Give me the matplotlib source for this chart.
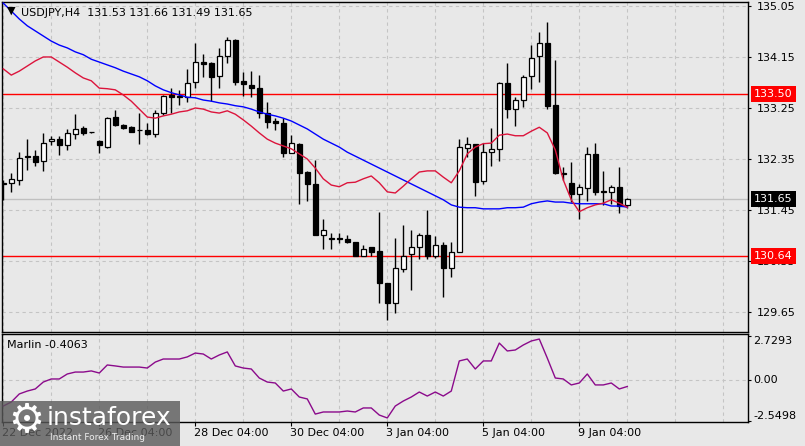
import matplotlib
matplotlib.use("Agg")
import matplotlib.pyplot as plt
from matplotlib.patches import Rectangle

# USDJPY H4 candles
opens = [131.93, 131.92, 131.98, 132.40, 132.40, 132.32, 132.66, 132.70, 132.59, 132.79,
         132.90, 132.82, 132.66, 132.57, 133.09, 132.95, 132.91, 132.86, 132.86, 132.79,
         133.17, 133.48, 133.46, 133.45, 133.70, 134.07, 134.05, 133.82, 134.16, 134.45,
         133.73, 133.66, 133.61, 133.17, 133.02, 132.99, 132.46, 132.61, 132.12, 131.91,
         131.00, 130.96, 130.95, 130.94, 130.88, 130.64, 130.79, 130.73, 130.16, 129.80,
         130.41, 130.67, 130.79, 131.01, 130.64, 130.84, 130.42, 130.70, 132.54, 132.61,
         131.96, 132.47, 132.52, 133.69, 133.24, 133.39, 133.81, 134.17, 134.39, 133.31,
         132.11, 131.92, 131.74, 131.83, 132.43, 131.79, 131.76, 131.85, 131.53]
highs = [131.98, 132.10, 132.48, 132.71, 132.51, 132.80, 132.76, 132.76, 132.88, 133.14,
         132.94, 132.83, 132.69, 133.09, 133.21, 132.97, 132.94, 133.17, 132.99, 133.21,
         133.48, 133.60, 133.57, 133.94, 134.40, 134.20, 134.07, 134.30, 134.51, 134.46,
         133.89, 133.90, 133.83, 133.36, 133.07, 133.07, 132.77, 132.63, 132.13, 132.33,
         131.29, 131.04, 131.04, 131.00, 130.88, 130.84, 130.79, 131.42, 130.16, 130.96,
         131.18, 131.10, 131.04, 131.45, 130.99, 130.88, 130.88, 132.71, 132.73, 132.61,
         132.64, 132.89, 133.71, 134.04, 133.44, 133.83, 134.36, 134.59, 134.76, 134.10,
         132.20, 132.29, 131.90, 132.56, 132.64, 132.13, 131.89, 132.21, 131.66]
lows = [131.63, 131.76, 131.89, 132.16, 132.23, 132.14, 132.59, 132.42, 132.51, 132.71,
        132.77, 132.81, 132.46, 132.55, 132.93, 132.88, 132.82, 132.61, 132.77, 132.73,
        133.13, 133.16, 133.30, 133.36, 133.60, 133.79, 133.38, 133.61, 134.05, 133.66,
        133.47, 133.45, 133.08, 132.90, 132.86, 132.38, 132.45, 131.55, 131.60, 131.00,
        130.77, 130.77, 130.86, 130.86, 130.64, 130.64, 130.64, 129.81, 129.50, 129.63,
        130.35, 130.04, 130.58, 130.58, 130.61, 129.92, 130.27, 130.70, 132.38, 131.69,
        131.91, 132.23, 132.32, 133.07, 132.93, 133.27, 133.58, 133.70, 133.23, 132.09,
        131.98, 131.59, 131.29, 131.60, 131.72, 131.54, 131.56, 131.39, 131.49]
closes = [131.90, 131.99, 132.36, 132.38, 132.30, 132.64, 132.70, 132.59, 132.80, 132.88,
          132.81, 132.82, 132.59, 133.07, 132.95, 132.89, 132.83, 132.86, 132.79, 133.17,
          133.46, 133.45, 133.45, 133.69, 134.07, 134.02, 133.80, 134.16, 134.45, 133.70,
          133.67, 133.60, 133.16, 133.01, 132.99, 132.45, 132.63, 132.10, 131.90, 131.00,
          131.10, 130.94, 130.93, 130.88, 130.64, 130.77, 130.70, 130.16, 129.81, 130.42,
          130.64, 130.80, 131.01, 130.64, 130.84, 130.42, 130.70, 132.56, 132.61, 131.95,
          132.47, 132.52, 133.69, 133.24, 133.39, 133.79, 134.14, 134.39, 133.29, 132.10,
          132.09, 131.73, 131.85, 132.43, 131.76, 131.76, 131.86, 131.52, 131.65]

ma_slow = [135.10, 134.96, 134.82, 134.70, 134.61, 134.52, 134.43, 134.36, 134.31, 134.24,
           134.19, 134.11, 134.06, 134.01, 133.96, 133.90, 133.85, 133.80, 133.73, 133.64,
           133.57, 133.52, 133.48, 133.44, 133.43, 133.39, 133.37, 133.34, 133.32, 133.29,
           133.27, 133.23, 133.18, 133.14, 133.11, 133.07, 133.02, 132.95, 132.88, 132.79,
           132.70, 132.63, 132.56, 132.47, 132.40, 132.33, 132.26, 132.19, 132.12, 132.05,
           131.98, 131.91, 131.84, 131.77, 131.70, 131.63, 131.54, 131.50, 131.49, 131.49,
           131.47, 131.47, 131.47, 131.49, 131.49, 131.50, 131.56, 131.59, 131.61, 131.59,
           131.59, 131.57, 131.56, 131.56, 131.56, 131.56, 131.52, 131.52, 131.50]
ma_fast = [133.94, 133.83, 133.90, 133.99, 134.08, 134.15, 134.15, 134.06, 133.97, 133.87,
           133.78, 133.73, 133.60, 133.59, 133.57, 133.48, 133.37, 133.23, 133.09, 133.07,
           133.11, 133.14, 133.18, 133.20, 133.25, 133.23, 133.18, 133.16, 133.20, 133.14,
           133.04, 132.93, 132.81, 132.70, 132.63, 132.58, 132.53, 132.44, 132.35, 132.19,
           132.00, 131.89, 131.86, 131.93, 131.94, 132.00, 132.05, 131.93, 131.77, 131.75,
           131.87, 132.00, 132.12, 132.14, 132.14, 132.03, 131.93, 132.14, 132.44, 132.56,
           132.62, 132.63, 132.77, 132.79, 132.76, 132.76, 132.84, 132.91, 132.81, 132.51,
           131.98, 131.63, 131.42, 131.49, 131.54, 131.57, 131.63, 131.57, 131.50]

marlin = [-1.62, -1.37, -0.87, -0.69, -0.56, -0.13, 0.06, 0.06, 0.37, 0.49,
          0.49, 0.56, 0.43, 0.93, 0.87, 0.80, 0.80, 0.80, 0.74, 1.11,
          1.30, 1.30, 1.30, 1.43, 1.67, 1.61, 1.30, 1.55, 1.74, 0.87,
          0.74, 0.68, 0.12, -0.13, -0.19, -0.69, -0.56, -1.06, -1.18, -2.12,
          -1.99, -1.99, -1.99, -1.93, -1.99, -1.74, -1.74, -2.18, -2.36, -1.62,
          -1.31, -1.06, -0.75, -1.00, -0.75, -1.00, -0.69, 1.18, 1.30, 0.68,
          1.18, 1.18, 2.29, 1.80, 1.86, 2.17, 2.42, 2.54, 1.36, 0.12,
          0.06, -0.31, -0.19, 0.37, -0.31, -0.31, -0.19, -0.56, -0.4063]

price_ticks = [135.05, 134.15, 133.25, 132.35, 131.45, 130.55, 129.65]
levels = [133.50, 130.64]
last_price = 131.65
date_pos = [0, 12, 24, 36, 48, 60, 72]
date_labels = ["22 Dec 2022", "26 Dec 04:00", "28 Dec 04:00", "30 Dec 04:00",
               "3 Jan 04:00", "5 Jan 04:00", "9 Jan 04:00"]

W, H = 805, 446
BG = "#e8e8e8"
GRID = "#c4c4c4"


def px_box(l, t, r, b):
    return [l / W, (H - b) / H, (r - l) / W, (b - t) / H]


fig = plt.figure(figsize=(W / 100, H / 100), dpi=100, facecolor=BG)
ax = fig.add_axes(px_box(2, 2, 748, 332), facecolor=BG)
ax2 = fig.add_axes(px_box(2, 334, 748, 422), facecolor=BG, sharex=ax)

xs = list(range(len(closes)))

# grid
for g in range(0, 94, 6):
    ax.axvline(g, color=GRID, lw=0.8, ls=(0, (3, 3)), zorder=0)
    ax2.axvline(g, color=GRID, lw=0.8, ls=(0, (3, 3)), zorder=0)
for p in price_ticks:
    ax.axhline(p, color=GRID, lw=0.8, ls=(0, (3, 3)), zorder=0)
ax2.axhline(0, color=GRID, lw=0.8, ls=(0, (3, 3)), zorder=0)

# current price line and levels
ax.axhline(last_price, color="#c0c0c0", lw=1, zorder=1)
for lv in levels:
    ax.axhline(lv, color="#ff0000", lw=1, zorder=2)

# candles
ax.vlines(xs, lows, highs, color="black", lw=1, zorder=3)
for i in xs:
    o, c = opens[i], closes[i]
    fc = "white" if c >= o else "black"
    h = max(abs(c - o), 0.004)
    ax.bar(i, h, bottom=min(o, c), width=0.58, color=fc, edgecolor="black",
           linewidth=0.9, zorder=4)

ax.plot(xs, ma_slow, color="#0000ff", lw=1, zorder=5)
ax.plot(xs, ma_fast, color="#dc143c", lw=1, zorder=5)

ax.set_xlim(-0.16, 93.09)
ax.set_ylim(129.297, 135.12)
ax.yaxis.tick_right()
ax.set_yticks(price_ticks)
ax.set_yticklabels([f"{p:.2f}" for p in price_ticks])
ax.tick_params(axis="y", direction="out", length=2, pad=4, labelsize=8, colors="black")
ax.tick_params(axis="x", bottom=False, labelbottom=False)
for s in ax.spines.values():
    s.set_color("black")
    s.set_linewidth(1)

# price boxes on the right scale
ytr = ax.get_yaxis_transform()
for lv in levels:
    ax.text(1 + 6 / 746, lv, f"{lv:.2f}", transform=ytr, ha="left", va="center",
            fontsize=8, color="white", clip_on=False, zorder=10,
            bbox=dict(boxstyle="square,pad=0.28", fc="#ff0000", ec="none"))
ax.text(1 + 6 / 746, last_price, f"{last_price:.2f}", transform=ytr, ha="left",
        va="center", fontsize=8, color="white", clip_on=False, zorder=10,
        bbox=dict(boxstyle="square,pad=0.28", fc="black", ec="none"))

# header
fig.text(7 / W, 1 - 11 / H, "\u25bc", fontsize=8, color="black", va="center")
fig.text(21 / W, 1 - 12.5 / H, "USDJPY,H4  131.53 131.66 131.49 131.65", fontsize=8,
         color="black", va="center")

# Marlin panel
ax2.plot(xs, marlin, color="#8b0a8b", lw=1, zorder=3)
ax2.set_ylim(-2.612, 2.8535)
ax2.yaxis.tick_right()
ax2.set_yticks([2.7293, 0, -2.5498])
ax2.set_yticklabels([])
ax2.tick_params(axis="y", direction="out", length=2)
ytr2 = ax2.get_yaxis_transform()
ax2.text(1 + 5 / 746, 2.7293, "2.7293", transform=ytr2, ha="left", va="top",
         fontsize=8, clip_on=False)
ax2.text(1 + 5 / 746, 0, "0.00", transform=ytr2, ha="left", va="center",
         fontsize=8, clip_on=False)
ax2.text(1 + 5 / 746, -2.5498, "-2.5498", transform=ytr2, ha="left", va="bottom",
         fontsize=8, clip_on=False)
ax2.text(5 / 746, 2.2, "Marlin -0.4063", transform=ax2.get_yaxis_transform(),
         ha="left", va="center", fontsize=8)
for s in ax2.spines.values():
    s.set_color("black")
    s.set_linewidth(1)

ax2.set_xticks(date_pos)
ax2.set_xticklabels([])
ax2.tick_params(axis="x", direction="out", length=3)
xtr = ax2.get_xaxis_transform()
for pos, lab in zip(date_pos, date_labels):
    ax2.text(pos - 0.2, -0.13, lab, transform=xtr, ha="left", va="center",
             fontsize=8, clip_on=False)

# watermark box
fig.patches.append(Rectangle((0, 0), 180 / W, 45 / H, transform=fig.transFigure,
                             fc="#5a5a5a", ec="none", alpha=0.8, zorder=20))
fig.text(26 / W, 1 - 421 / H, "\u2699", fontsize=29, color="white", ha="center",
         va="center", zorder=21)
fig.text(47 / W, 1 - 425 / H, "instaforex", fontsize=18, color="white",
         va="baseline", zorder=21)
fig.text(50 / W, 1 - 440 / H, "Instant Forex Trading", fontsize=6.5,
         color="#eeeeee", va="baseline", zorder=21)

fig.savefig("out.png", dpi=100, facecolor=BG)
